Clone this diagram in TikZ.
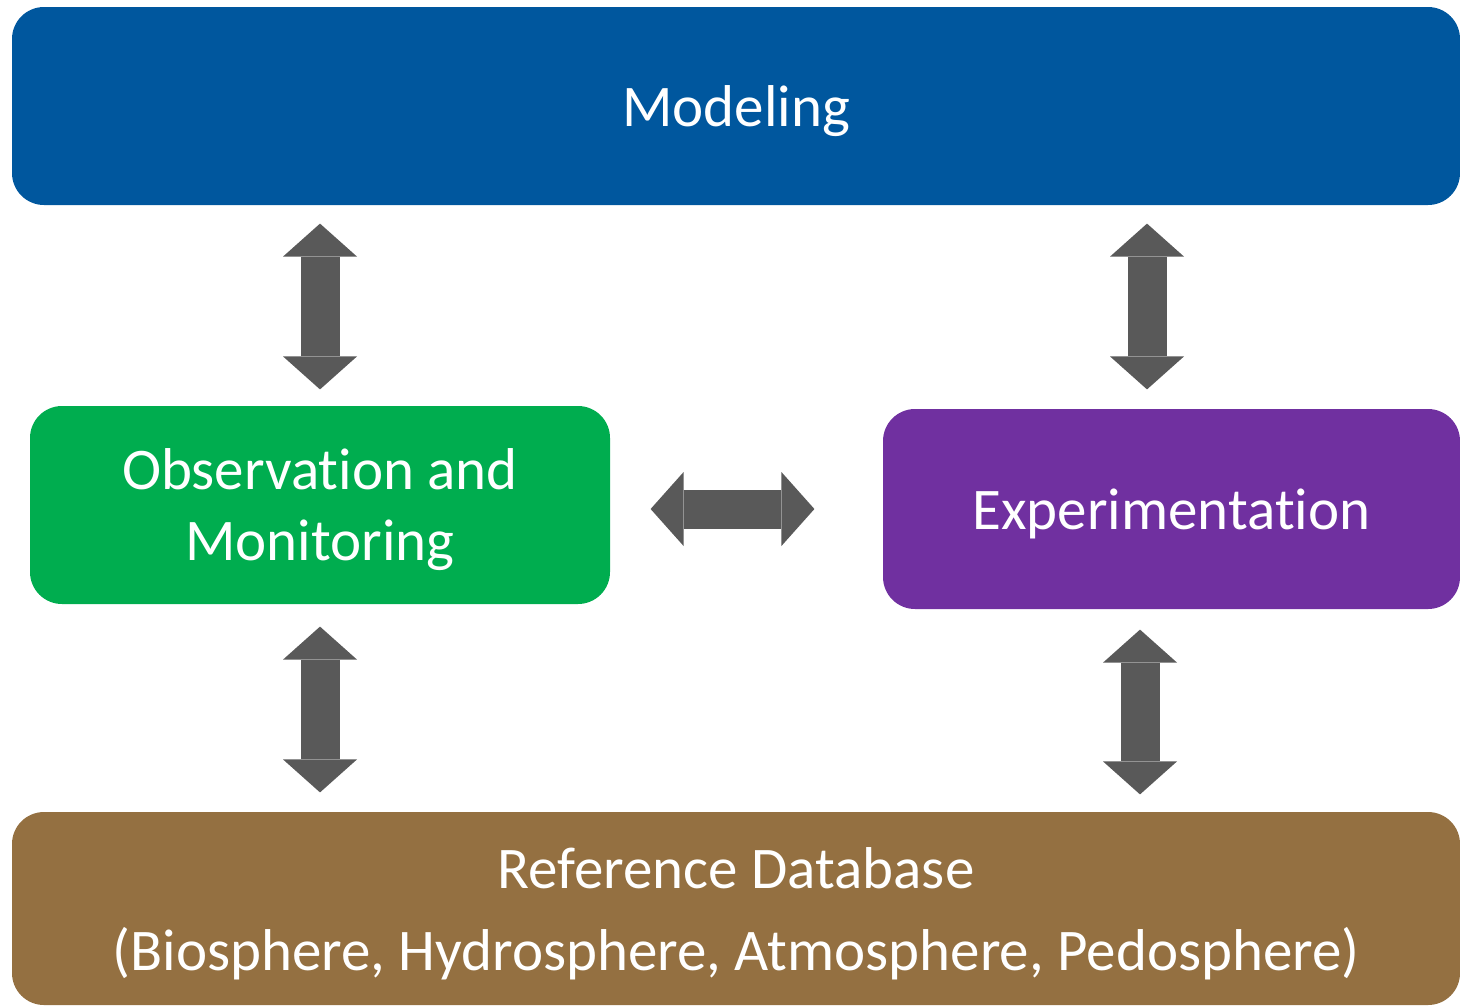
\documentclass[tikz,border=0pt]{standalone}
\usepackage{fontspec}
\setmainfont{Carlito}[Ligatures=NoCommon]
\usepackage{tikz}
\usetikzlibrary{arrows.meta}
\usetikzlibrary{positioning}
\definecolor{modelblue}{RGB}{0,87,158}
\definecolor{obsgreen}{RGB}{0,173,79}
\definecolor{exppurple}{RGB}{112,48,160}
\definecolor{refbrown}{RGB}{148,112,65}
\definecolor{arrowgray}{RGB}{89,89,89}

\begin{document}
\begin{tikzpicture}[
            x = 0.5pt, y = -0.5pt, % one unit per pixel, y going down
            semithick
        ]

        \tikzstyle{box}=[
            rounded corners = 16pt,
            text = white,
            align = center,
            inner sep = 0pt,
            text depth = 0pt, % keep the lines a bit low, as in the slides
            font = \fontsize{29.5}{35.5}\selectfont
        ]
        \tikzstyle{dblarrow}=[
            line width = 19.5pt,
            arrowgray,
            {Triangle[length=16.5pt, width=37pt, line width=0pt]}-{Triangle[length=16.5pt, width=37pt, line width=0pt]}
        ]

        \useasboundingbox (0,0) rectangle (1460,1007);

        % top level
        \node[box, fill = modelblue, minimum width = 724pt, minimum height = 99pt] (M) at (736,106) {Modeling};

        % middle level
        \node[box, fill = obsgreen, minimum width = 290pt, minimum height = 99pt] (O) at (320,505) {Observation and\\Monitoring};
        \node[box, fill = exppurple, minimum width = 288.5pt, minimum height = 100pt] (E) at (1171.5,509) {Experimentation};

        % data level
        \node[box, fill = refbrown, minimum width = 724pt, minimum height = 96.5pt,
              font = \fontsize{29.5}{41}\selectfont] (R) at (736,908.5)
              {Reference Database\\(Biosphere, Hydrosphere, Atmosphere, Pedosphere)};

        % links
        \coordinate (Et) at ([xshift=-12.25pt]E.north);
        \coordinate (Eb) at ([xshift=-15.75pt]E.south);

        \draw[dblarrow, shorten < = 8pt, shorten > = 9pt] (O.north) -- (O.north |- M.south);
        \draw[dblarrow, shorten < = 9.5pt, shorten > = 9pt] (Et) -- (Et |- M.south);
        \draw[dblarrow, shorten < = 20pt, shorten > = 34pt] (O.east |- E.west) -- (E.west);
        \draw[dblarrow, shorten < = 11pt, shorten > = 9.5pt] (O.south) -- (O.south |- R.north);
        \draw[dblarrow, shorten < = 10pt, shorten > = 8.5pt] (Eb) -- (Eb |- R.north);

\end{tikzpicture}
\end{document}
